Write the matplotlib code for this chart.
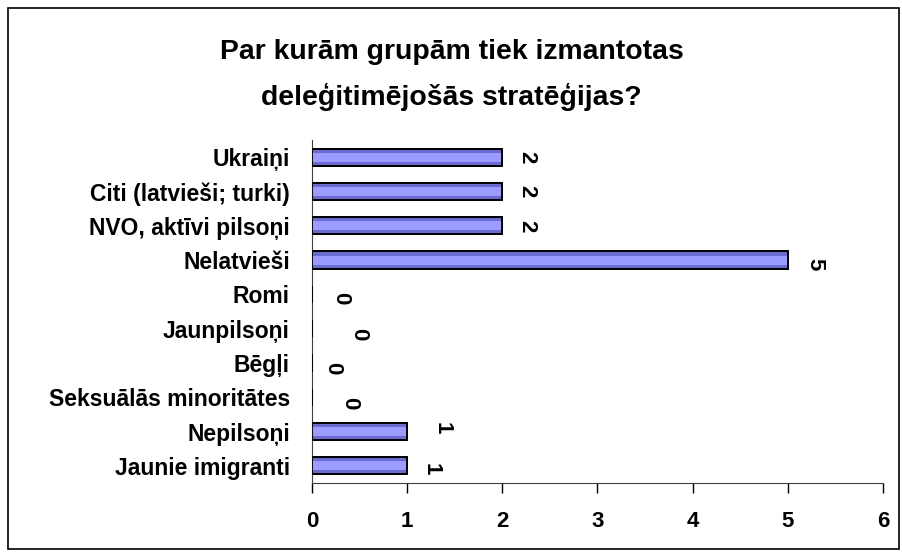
import matplotlib
matplotlib.use("Agg")
import matplotlib.pyplot as plt
from matplotlib.patches import Rectangle

# dati (no augšas uz leju)
grupas = ["Ukraiņi", "Citi (latvieši; turki)", "NVO, aktīvi pilsoņi", "Nelatvieši",
          "Romi", "Jaunpilsoņi", "Bēgļi", "Seksuālās minoritātes",
          "Nepilsoņi", "Jaunie imigranti"]
vertibas = [2, 2, 2, 5, 0, 0, 0, 0, 1, 1]
x_ticks = [0, 1, 2, 3, 4, 5, 6]

# etiķešu nobīdes pikseļos (kā oriģinālajā Excel attēlā)
lbl_dx = [24, 24, 24, 27, 29, 47, 21, 38, 35, 24]
lbl_dy = [0, 0, 0, -4, -4, -6, -5, -6, 3, -3]

plt.rcParams['font.family'] = ['Liberation Sans', 'DejaVu Sans']
plt.rcParams['font.weight'] = 'bold'

fig = plt.figure(figsize=(9.03, 5.54), dpi=100)
fig.patches.append(Rectangle((8 / 903, 5 / 554), 891 / 903, 541 / 554,
                             transform=fig.transFigure, fill=False,
                             edgecolor='black', linewidth=1.2))

ax = fig.add_axes([312 / 903, 1 - 483 / 554, 571 / 903, 343 / 554])

y = list(range(len(grupas)))[::-1]
ax.barh(y, vertibas, height=0.5, color='#6a6ad0', edgecolor='black', linewidth=1.3, zorder=2)
ax.barh(y, vertibas, height=0.26, color='#9c9cff', linewidth=0, zorder=3)
ax.barh(y, vertibas, height=0.5, color='none', edgecolor='black', linewidth=1.3, zorder=4)

for yi, v, dx, dy in zip(y, vertibas, lbl_dx, lbl_dy):
    ax.annotate(str(v), (v, yi), xytext=(dx, dy), textcoords='offset pixels',
                rotation=270, ha='center', va='center', fontsize=16, fontweight='bold')

ax.set_xlim(0, 6)
ax.set_ylim(-0.5, len(grupas) - 0.5)
ax.set_xticks(x_ticks)
ax.set_yticks(y)
ax.set_yticklabels(grupas, fontsize=16.5, fontweight='bold')
ax.tick_params(axis='y', length=0, pad=16)
ax.tick_params(axis='x', length=7, width=1, direction='out', labelsize=16, pad=13)
for lbl in ax.get_xticklabels():
    lbl.set_fontweight('bold')
ax.spines['top'].set_visible(False)
ax.spines['right'].set_visible(False)
ax.spines['left'].set_color('#404040')
ax.spines['bottom'].set_color('#404040')

fig.text(0.5, 1 - 75 / 554,
         "Par kurām grupām tiek izmantotas\ndeleģitimējošās stratēģijas?",
         ha='center', va='center', fontsize=20.4, fontweight='bold', linespacing=1.8)

fig.savefig("out.png", dpi=100)
